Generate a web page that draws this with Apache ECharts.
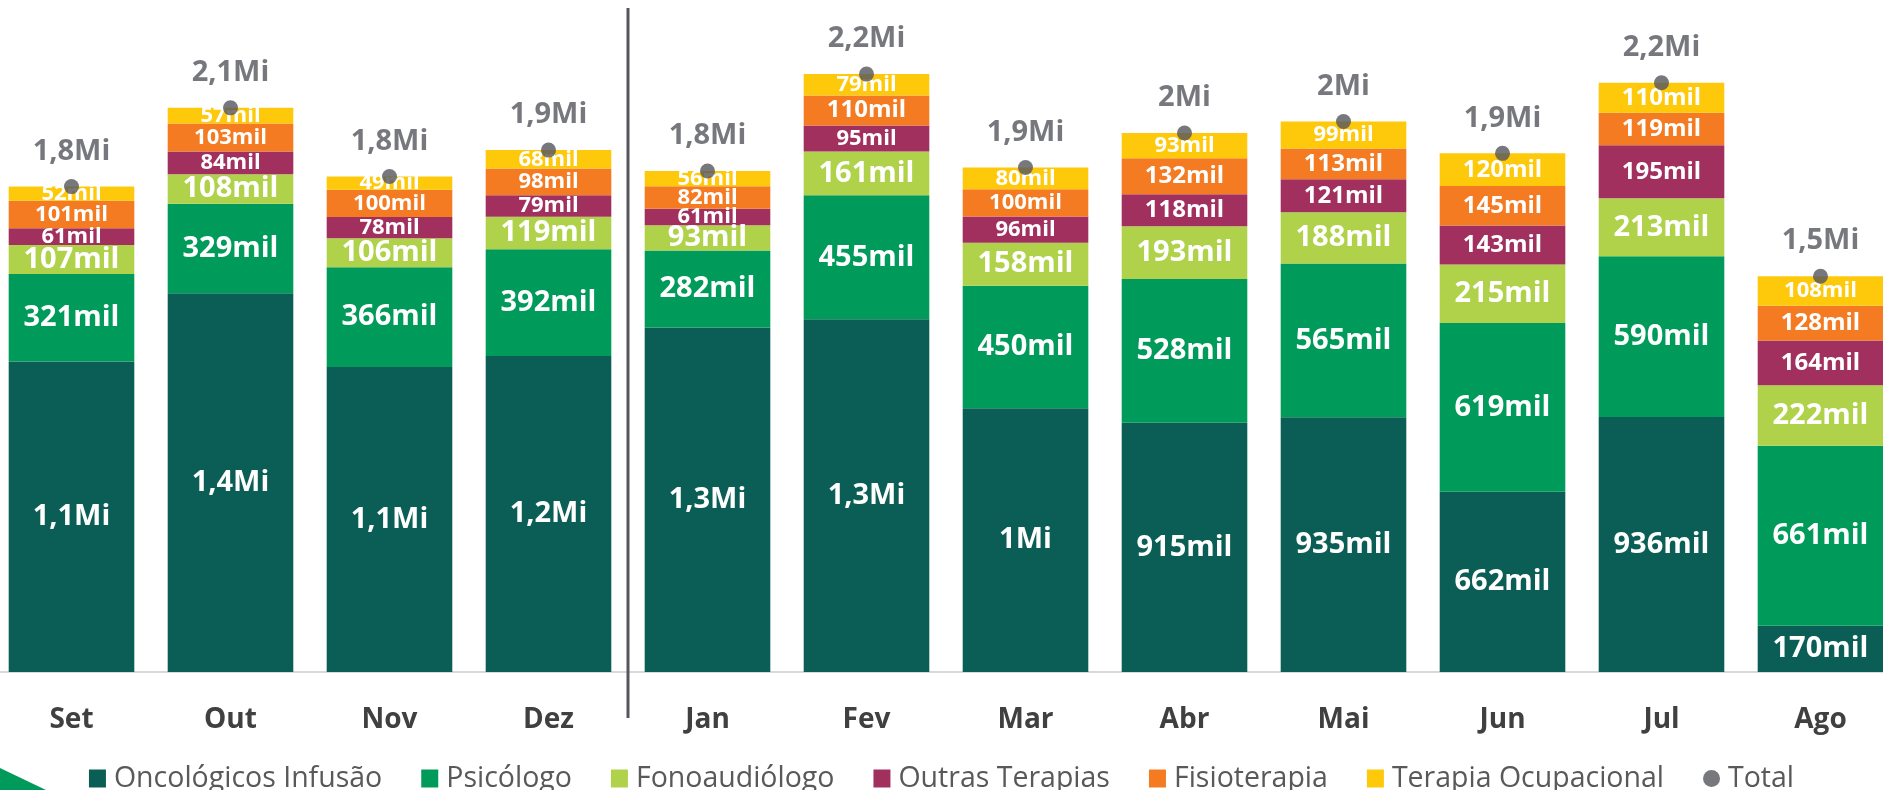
<!DOCTYPE html>
<html>
<head>
<meta charset="utf-8">
<script src="https://cdn.jsdelivr.net/npm/echarts@6/dist/echarts.min.js"></script>
<style>
html,body{margin:0;padding:0;background:#ffffff;}
#chart{width:1883px;height:790px;}
</style>
</head>
<body>
<div id="chart"></div>
<script>
// values in thousands
const months = ['Set','Out','Nov','Dez','Jan','Fev','Mar','Abr','Mai','Jun','Jul','Ago'];
const oncologicos = [1140,1390,1120,1160,1265,1295,968,915,935,662,936,170];
const psicologo   = [321,329,366,392,282,455,450,528,565,619,590,661];
const fono        = [107,108,106,119,93,161,158,193,188,215,213,222];
const outras      = [61,84,78,79,61,95,96,118,121,143,195,164];
const fisio       = [101,103,100,98,82,110,100,132,113,145,119,128];
const terapiaOc   = [52,57,49,68,56,79,80,93,99,120,110,108];

const seriesNames = ['Oncológicos Infusão','Psicólogo','Fonoaudiólogo','Outras Terapias','Fisioterapia','Terapia Ocupacional'];
const seriesData = [oncologicos, psicologo, fono, outras, fisio, terapiaOc];
const colors = ['#0B5E55','#009B5A','#B0D24B','#A1305F','#F47B22','#FFC90B'];
const totals = months.map((m,i)=>seriesData.reduce((s,arr)=>s+arr[i],0));

function fmt(v){
  if (v >= 950){
    let s = (Math.round(v/100)/10).toFixed(1).replace('.', ',');
    if (s.endsWith(',0')) s = s.slice(0,-2);
    return s + 'Mi';
  }
  return Math.round(v) + 'mil';
}
function labelSize(v, si){
  if (si <= 2 && v >= 90) return 29;
  if (v >= 110) return 24;
  return 22;
}

const FONT = "'Open Sans', 'Noto Sans', sans-serif";
const chart = echarts.init(document.getElementById('chart'), null, {renderer:'canvas'});

const barSeries = seriesNames.map((name, si)=>({
  name: name,
  type: 'bar',
  stack: 'total',
  barCategoryGap: '21%',
  itemStyle: {color: colors[si]},
  data: seriesData[si].map(v=>({
    value: v,
    label: {fontSize: labelSize(v, si)}
  })),
  label: {
    show: true,
    position: 'inside',
    color: '#ffffff',
    fontWeight: 'bold',
    fontFamily: FONT,
    formatter: p => fmt(p.value),
    backgroundColor: si === 0 ? colors[0] : 'transparent',
    padding: si === 0 ? [2,6] : 0
  },
  emphasis: {disabled: true}
}));

const option = {
  animation: false,
  backgroundColor: '#ffffff',
  grid: {left: -8, width: 1908, top: 0, height: 672, containLabel: false, outerBoundsMode: 'none'},
  xAxis: {
    type: 'category',
    data: months,
    axisLine: {show: true, lineStyle: {color: '#D9D9D9', width: 2}},
    axisTick: {show: false},
    axisLabel: {color: '#404040', fontSize: 28, fontWeight: 'bold', fontFamily: FONT, margin: 34}
  },
  yAxis: {
    type: 'value', min: 0, max: 2467, show: false,
    splitLine: {show: false}
  },
  legend: {
    left: 'center',
    top: 759,
    itemWidth: 17,
    itemHeight: 18,
    itemGap: 39,
    textStyle: {color: '#595959', fontSize: 28.5, fontFamily: FONT, padding: [0,0,0,3]},
    data: seriesNames.map(n=>({name: n, icon: 'rect'})).concat([{name: 'Total', icon: 'circle'}])
  },
  series: barSeries.concat([{
    name: 'Total',
    type: 'scatter',
    data: totals,
    symbol: 'circle',
    symbolSize: 15,
    z: 10,
    itemStyle: {color: '#55565D'},
    label: {
      show: true,
      position: 'top',
      distance: 13,
      color: '#55565D',
      fontSize: 29,
      fontWeight: 'bold',
      fontFamily: FONT,
      formatter: p => fmt(p.value)
    },
    emphasis: {disabled: true}
  }])
};
chart.setOption(option);

// separator between Dez and Jan, and decorative corner triangle
const xDez = chart.convertToPixel({xAxisIndex: 0}, 'Dez');
const xJan = chart.convertToPixel({xAxisIndex: 0}, 'Jan');
const sepX = Math.round((xDez + xJan) / 2);
chart.setOption({
  graphic: [
    {type: 'line', shape: {x1: sepX, y1: 8, x2: sepX, y2: 718}, style: {stroke: '#55565D', lineWidth: 3}, z: 20},
    {type: 'polygon', shape: {points: [[0,768],[46,790],[0,790]]}, style: {fill: '#009B5A'}, z: 20}
  ]
});
</script>
</body>
</html>
